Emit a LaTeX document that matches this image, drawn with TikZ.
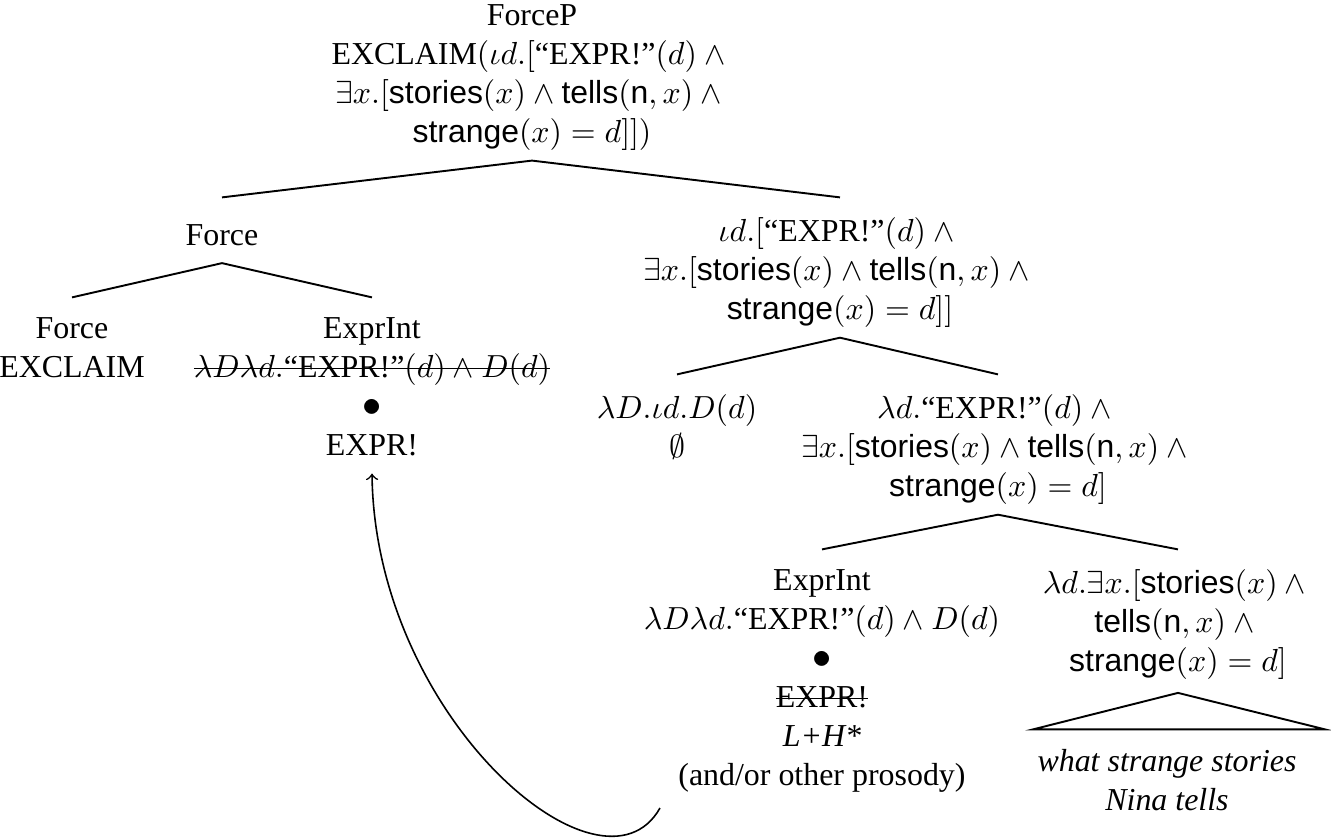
\documentclass[tikz,border=0pt]{standalone}
\usepackage{fontspec}
\setmainfont{Liberation Serif}
\setsansfont{Liberation Sans}
\usetikzlibrary{calc}
\newsavebox{\strkbox}
\newcommand{\strk}[1]{\sbox{\strkbox}{#1}\rlap{\rule[2.6pt]{\wd\strkbox}{0.45pt}}\usebox{\strkbox}}
\newcommand{\bigdot}{{\fontsize{12.5}{12.2}\selectfont$\bullet$}}
\tikzset{
  tn/.style={anchor=north, align=center, inner xsep=0pt, inner ysep=4pt,
    font=\fontsize{10}{12.2}\selectfont,
    execute at begin node=\strut, execute at end node=\strut},
  br/.style={line width=0.6pt},
  mv/.style={line width=0.5pt, ->}
}
\newcommand{\sfw}[1]{\textsf{#1}}
\begin{document}
\begin{tikzpicture}[x=0.3133pt, y=-0.3133pt]
\useasboundingbox (0,0) rectangle (1331,838);
\node[tn] (root) at (532,-8.6) {ForceP\\
  EXCLAIM$(\iota d.[$“EXPR!”$(d)\wedge{}$\\
  $\exists x.[\sfw{stories}(x)\wedge\sfw{tells}(\sfw{n},x)\wedge{}$\\
  $\sfw{strange}(x)=d]])$};
\node[tn] (force) at (222,204.4) {Force};
\node[tn] (iota) at (840,204.4) {$\iota d.[$“EXPR!”$(d)\wedge{}$\\
  $\exists x.[\sfw{stories}(x)\wedge\sfw{tells}(\sfw{n},x)\wedge{}$\\
  $\sfw{strange}(x)=d]]$};
\node[tn] (fleaf) at (72,304.4) {Force\\EXCLAIM};
\node[tn] (exprL) at (372,304.4) {ExprInt\\
  \strk{$\lambda D\lambda d.$“EXPR!”$(d)\wedge D(d)$}\\
  \bigdot\\EXPR!};
\node[tn] (lamD) at (677,381.4) {$\lambda D.\iota d.D(d)$\\$\emptyset$};
\node[tn] (lamd) at (998,381.4) {$\lambda d.$“EXPR!”$(d)\wedge{}$\\
  $\exists x.[\sfw{stories}(x)\wedge\sfw{tells}(\sfw{n},x)\wedge{}$\\
  $\sfw{strange}(x)=d]$};
\node[tn] (exprR) at (822,556.4) {ExprInt\\
  $\lambda D\lambda d.$“EXPR!”$(d)\wedge D(d)$\\
  \bigdot\\\strk{EXPR!}\\\textit{L+H*}\\(and/or other prosody)};
\node[tn] (vp) at (1178,556.4) {$\lambda d.\exists x.[\sfw{stories}(x)\wedge{}$\\
  $\sfw{tells}(\sfw{n},x)\wedge{}$\\
  $\sfw{strange}(x)=d]$};
\node[tn] (leaves) at (1167,736.4) {\textit{what strange stories}\\\textit{Nina tells}};
\draw[br] ([yshift=2.2pt]force.north) -- ([yshift=2.2pt]root.south) -- ([yshift=2.2pt]iota.north);
\draw[br] ([yshift=2.2pt]fleaf.north) -- ([yshift=2.2pt]force.south) -- ([yshift=2.2pt]exprL.north);
\draw[br] ([yshift=2.2pt]lamD.north) -- ([yshift=2.2pt]iota.south) -- ([yshift=2.2pt]lamd.north);
\draw[br] ([yshift=2.2pt]exprR.north) -- ([yshift=2.2pt]lamd.south) -- ([yshift=2.2pt]vp.north);
\draw[br] ($([yshift=2.2pt]leaves.north)+(-134,0)$) -- ([yshift=1.2pt]vp.south) -- ($([yshift=2.2pt]leaves.north)+(158,0)$) -- cycle;
\coordinate (astart) at (660,808);
\draw[mv] (astart) .. controls ($(astart)+(-58,103)$) and ($([yshift=2.2pt]exprL.south)+(3,244)$) .. ([yshift=2.2pt]exprL.south);
\end{tikzpicture}
\end{document}
